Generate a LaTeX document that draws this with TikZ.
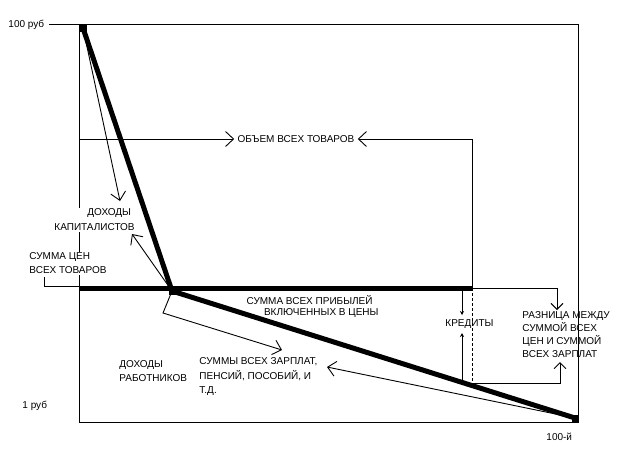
\documentclass[tikz,border=0pt]{standalone}
\usepackage{fontspec}
\setmainfont{Liberation Sans}
\usetikzlibrary{arrows.meta}
\begin{document}
\begin{tikzpicture}[x=1pt,y=-1pt, line width=0.9pt,
  lbl/.style={font=\fontsize{10}{14}\selectfont, inner sep=0pt, align=left},
  wlbl/.style={lbl, fill=white, inner sep=1pt},
  barb/.style={-{Straight Barb[length=8pt,width=15pt]}},
  sbarb/.style={-{Straight Barb[length=6pt,width=12pt]}},
  tinyarr/.style={-{Stealth[length=4pt,width=4pt]}},
  heavy/.style={line width=5pt},
  dashline/.style={dash pattern=on 3pt off 2pt},
  sqm/.style={fill=black, minimum size=7pt, inner sep=0pt}]
\useasboundingbox[fill=white] (0,0) rectangle (627,475);
% frame
\coordinate (tick) at (49,24);
\coordinate (TL) at (79,24);
\coordinate (TR) at (578,24);
\coordinate (BR) at (578,422);
\coordinate (BL) at (79,422);
\draw (tick) -- (TR) -- (BR) -- (BL) -- (TL);
% key points
\coordinate (A) at (83,28);
\coordinate (K) at (172,291);
\coordinate (E) at (575,418);
\coordinate (H) at (79,288);
\coordinate (P) at (472,288);
\coordinate (D) at (472,383.5);
\coordinate (VL) at (79,139);
\coordinate (capt) at (120,201);
\coordinate (capb) at (132,234);
\coordinate (kb) at (163,313);
\coordinate (wt) at (282,350);
\coordinate (wr) at (327,367);
\coordinate (bk) at (44,277);
\coordinate (bkh) at (79,286);
\coordinate (ct) at (462,289);
\coordinate (ctip) at (462,315);
\coordinate (cb) at (462,384);
\coordinate (cbtip) at (462,333);
\coordinate (r1a) at (557,288);
\coordinate (r1b) at (557,310);
\coordinate (r2a) at (560,383.5);
\coordinate (r2b) at (560,362);
% axis labels
\node[lbl, anchor=base west] (r100) at (8,27.6) {100 руб};
\node[lbl, anchor=base west] (r1) at (22,408.6) {1 руб};
\node[lbl, anchor=base west] (n100) at (546,440.6) {100-й};
% white-backed labels over the left side
\node[wlbl, anchor=base west, font=\fontsize{10}{15}\selectfont] (cap) at (53,230.6) {\hspace*{33pt}ДОХОДЫ\\КАПИТАЛИСТОВ};
\node[wlbl, anchor=base west] (sumc) at (28,273.6) {СУММА ЦЕН\\ВСЕХ ТОВАРОВ};
% volume bracket
\node[lbl, inner sep=3pt] (vol) at (296,139) {ОБЪЕМ ВСЕХ ТОВАРОВ};
\draw[barb] (VL) -- (vol.west);
\draw[barb] (P) |- (vol.east);
% other labels
\node[lbl, anchor=base east, align=right, font=\fontsize{10}{11}\selectfont] (prof) at (379,315.6) {СУММА ВСЕХ ПРИБЫЛЕЙ\hspace*{6pt}\\ВКЛЮЧЕННЫХ В ЦЕНЫ};
\node[lbl, anchor=base west] (work) at (119,381.6) {ДОХОДЫ\\РАБОТНИКОВ};
\node[lbl, anchor=base west, font=\fontsize{10}{14.5}\selectfont] (wage) at (199,393.6) {СУММЫ ВСЕХ ЗАРПЛАТ,\\ПЕНСИЙ, ПОСОБИЙ, И\\Т.Д.};
\node[lbl, anchor=base west] (cred) at (445,326.6) {КРЕДИТЫ};
\node[lbl, anchor=base west, font=\fontsize{10}{13}\selectfont] (diff) at (522,357.6) {РАЗНИЦА МЕЖДУ\\СУММОЙ ВСЕХ\\ЦЕН И СУММОЙ\\ВСЕХ ЗАРПЛАТ};
% bracket for sum of prices
\draw (bk) |- (bkh);
% thin arrows
\draw[barb] (A) -- (capt);
\draw[barb] (K) -- (capb);
\draw[barb] (K) -- (kb) -- (wt);
\draw[barb] (E) -- (wr);
\draw[dashline] (P) -- (D);
\draw[tinyarr] (ct) -- (ctip);
\draw[tinyarr] (cb) -- (cbtip);
\draw[sbarb] (P) -- (r1a) -- (r1b);
\draw[sbarb] (D) -- (r2a) -- (r2b);
% heavy lines
\draw[heavy] (H) -- (P);
\draw[heavy, line join=miter] (A) -- (K) -- (E);
\node[sqm] (mA) at (A) {};
\node[sqm] (mK) at (K) {};
\node[sqm] (mE) at (E) {};
\end{tikzpicture}
\end{document}
